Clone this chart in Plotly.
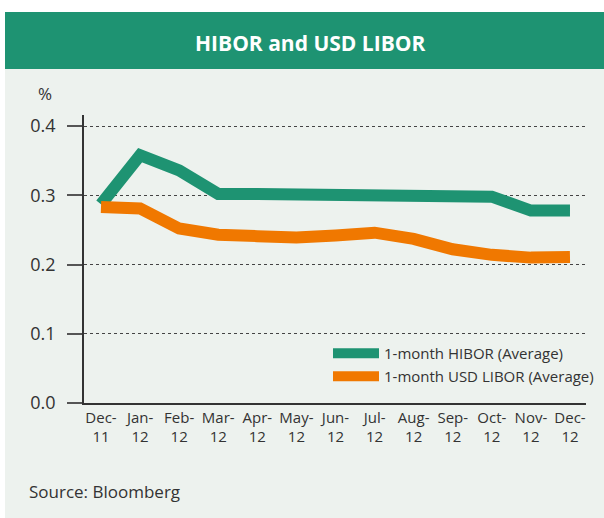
import plotly.graph_objects as go

months = ["Dec-<br>11", "Jan-<br>12", "Feb-<br>12", "Mar-<br>12", "Apr-<br>12", "May-<br>12",
          "Jun-<br>12", "Jul-<br>12", "Aug-<br>12", "Sep-<br>12", "Oct-<br>12", "Nov-<br>12", "Dec-<br>12"]
hibor = [0.287, 0.358, 0.336, 0.302, 0.302, 0.302, 0.302, 0.302, 0.300, 0.300, 0.298, 0.278, 0.278]
libor = [0.283, 0.281, 0.252, 0.243, 0.241, 0.239, 0.242, 0.246, 0.237, 0.222, 0.214, 0.210, 0.211]
yticks = [0.0, 0.1, 0.2, 0.3, 0.4]
ytick_text = ["0.0", "0.1", "0.2", "0.3", "0.4"]

GREEN = "#1e9372"
ORANGE = "#f07800"
BG = "#edf2ee"
TXT = "#333333"
FONT = "Open Sans"

W, H = 604, 518
L, R, T, B = 84, 18, 115, 115
pw, ph = W - L - R, H - T - B

def px(x):
    return (x - L) / pw

def py(y):
    return (H - B - y) / ph

xidx = list(range(len(months)))

fig = go.Figure()
fig.add_trace(go.Scatter(x=xidx, y=hibor, mode="lines", name="1-month HIBOR (Average)",
                         line=dict(color=GREEN, width=12), legend="legend"))
fig.add_trace(go.Scatter(x=xidx, y=libor, mode="lines", name="1-month USD LIBOR (Average)",
                         line=dict(color=ORANGE, width=12), legend="legend2"))

shapes = [
    dict(type="rect", xref="paper", yref="paper", x0=px(5), x1=px(610), y0=py(520), y1=py(12),
         fillcolor=BG, line=dict(width=0), layer="below"),
    dict(type="rect", xref="paper", yref="paper", x0=px(5), x1=px(610), y0=py(69), y1=py(12),
         fillcolor=GREEN, line=dict(width=0), layer="below"),
]

annotations = [
    dict(text="<b>HIBOR and USD LIBOR</b>", xref="paper", yref="paper", x=px(310), y=py(43),
         showarrow=False, font=dict(family=FONT, size=21, color="white"), xanchor="center", yanchor="middle"),
    dict(text="%", xref="paper", yref="paper", x=px(45), y=py(94), showarrow=False,
         font=dict(family=FONT, size=17, color=TXT), xanchor="center", yanchor="middle"),
    dict(text="Source: Bloomberg", xref="paper", yref="paper", x=px(27), y=py(491), showarrow=False,
         font=dict(family=FONT, size=17, color=TXT), xanchor="left", yanchor="middle"),
]

fig.update_layout(
    width=W, height=H,
    margin=dict(l=L, r=R, t=T, b=B, autoexpand=False),
    paper_bgcolor="white",
    plot_bgcolor="rgba(0,0,0,0)",
    font=dict(family=FONT, color=TXT),
    showlegend=True,
    shapes=shapes,
    annotations=annotations,
    legend=dict(x=px(328), y=py(353.5), xanchor="left", yanchor="middle", bgcolor="rgba(0,0,0,0)",
                font=dict(family=FONT, size=15, color=TXT), itemwidth=46),
    legend2=dict(x=px(328), y=py(376.5), xanchor="left", yanchor="middle", bgcolor="rgba(0,0,0,0)",
                 font=dict(family=FONT, size=15, color=TXT), itemwidth=46),
)

fig.update_xaxes(
    tickmode="array", tickvals=xidx, ticktext=months, range=[-0.435, 12.41],
    showgrid=False, zeroline=False, showline=True, linecolor="#333333", linewidth=1.5,
    ticks="", tickfont=dict(family=FONT, size=15, color=TXT),
)
fig.update_yaxes(
    tickmode="array", tickvals=yticks, ticktext=ytick_text, range=[0, 0.416],
    showgrid=True, gridcolor="#444444", griddash="dot", gridwidth=1,
    zeroline=False, showline=True, linecolor="#333333", linewidth=1.5,
    ticks="outside", ticklen=15, tickcolor="#555555", tickwidth=1.5,
    ticklabelstandoff=8,
    tickfont=dict(family=FONT, size=18, color=TXT),
)

fig.write_html("out.html", config={"displayModeBar": False},
               post_script="document.body.style.margin='0';document.body.style.padding='0';")
